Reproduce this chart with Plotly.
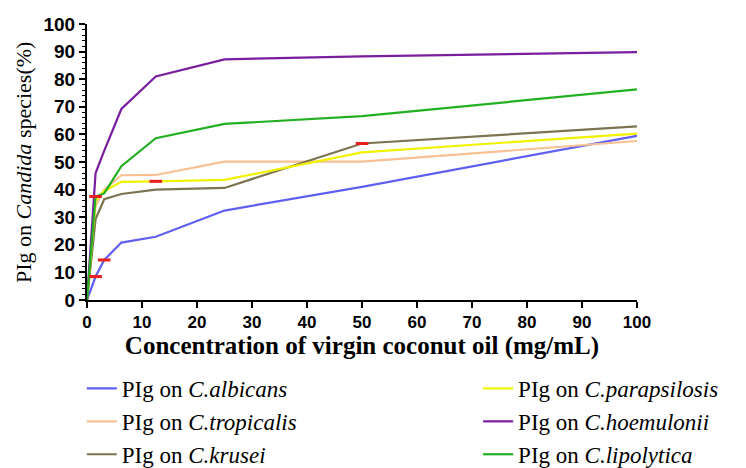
import plotly.graph_objects as go

conc = [0, 1.5625, 3.125, 6.25, 12.5, 25, 50, 100]

albicans = [0, 8.5, 14.5, 20.8, 22.9, 32.4, 41.0, 59.5]
tropicalis = [0, 34, 40, 45.2, 45.3, 50.1, 50.1, 57.6]
krusei = [0, 29.3, 36.5, 38.4, 40.0, 40.6, 56.7, 62.9]
parapsilosis = [0, 36, 39.5, 42.8, 43.0, 43.5, 53.5, 60.3]
hoemulonii = [0, 46, 54, 69.2, 81, 87.2, 88.3, 89.8]
lipolytica = [0, 37.5, 38.6, 48.5, 58.6, 63.8, 66.6, 76.3]

err_x = [1.5625, 3.125, 1.5625, 12.5, 50]
err_y = [8.5, 14.5, 37.5, 43.0, 56.7]

y_title = "PIg on <i>Candida</i> species(%)"
x_title = "Concentration of virgin coconut oil (mg/mL)"

series = [
    ("PIg on <i>C.albicans</i>", albicans, "#5f5ff2", "legend"),
    ("PIg on <i>C.tropicalis</i>", tropicalis, "#f7c193", "legend"),
    ("PIg on <i>C.krusei</i>", krusei, "#7b7450", "legend"),
    ("PIg on <i>C.parapsilosis</i>", parapsilosis, "#f2f200", "legend2"),
    ("PIg on <i>C.hoemulonii</i>", hoemulonii, "#7a1ea0", "legend2"),
    ("PIg on <i>C.lipolytica</i>", lipolytica, "#22b022", "legend2"),
]

fig = go.Figure()
for i, (name, ys, color, leg) in enumerate(series):
    fig.add_trace(go.Scatter(x=conc, y=ys, mode="lines", name=name,
                             legendgroup=f"g{i}",
                             line=dict(color=color, width=2.2), legend=leg))

fig.add_trace(go.Scatter(x=err_x, y=err_y, mode="markers", showlegend=False,
                         marker=dict(symbol="line-ew", size=9,
                                     line=dict(color="#e82020", width=3))))

serif = "Liberation Serif, Times New Roman, serif"
sans = "Liberation Sans, Arial, sans-serif"

fig.update_layout(
    width=738, height=460,
    margin=dict(l=79, r=109, t=16, b=168, autoexpand=False),
    paper_bgcolor="white", plot_bgcolor="white",
    xaxis=dict(range=[0, 100], tickvals=list(range(0, 101, 10)),
               showline=True, linecolor="black", linewidth=2,
               ticks="outside", ticklen=6, tickwidth=2, tickcolor="black",
               showgrid=False, zeroline=False, automargin=False,
               tickfont=dict(family=sans, size=17, color="black", weight="bold"),
               title=dict(text=x_title, standoff=2,
                          font=dict(family=serif, size=25, color="black", weight="bold"))),
    yaxis=dict(range=[0, 100], tickvals=list(range(0, 101, 10)),
               showline=True, linecolor="black", linewidth=2,
               ticks="outside", ticklen=6, tickwidth=2, tickcolor="black",
               minor=dict(dtick=2, ticks="outside", ticklen=3, tickwidth=1, tickcolor="black"),
               showgrid=False, zeroline=False, automargin=False,
               tickfont=dict(family=sans, size=19, color="black", weight="bold")),
    annotations=[dict(text=y_title, xref="paper", yref="paper", x=-0.1164, y=0.5,
                      xanchor="center", yanchor="middle", textangle=-90,
                      showarrow=False,
                      font=dict(family=serif, size=22, color="black"))],
    legend=dict(xref="container", yref="container", x=0.100, y=0.2196,
                xanchor="left", yanchor="top",
                font=dict(family=serif, size=23, color="black"),
                tracegroupgap=0, itemwidth=30, bgcolor="rgba(0,0,0,0)"),
    legend2=dict(xref="container", yref="container", x=0.637, y=0.2196,
                 xanchor="left", yanchor="top",
                 font=dict(family=serif, size=23, color="black"),
                 tracegroupgap=0, itemwidth=30, bgcolor="rgba(0,0,0,0)"),
)

fig.write_html("out.html")
